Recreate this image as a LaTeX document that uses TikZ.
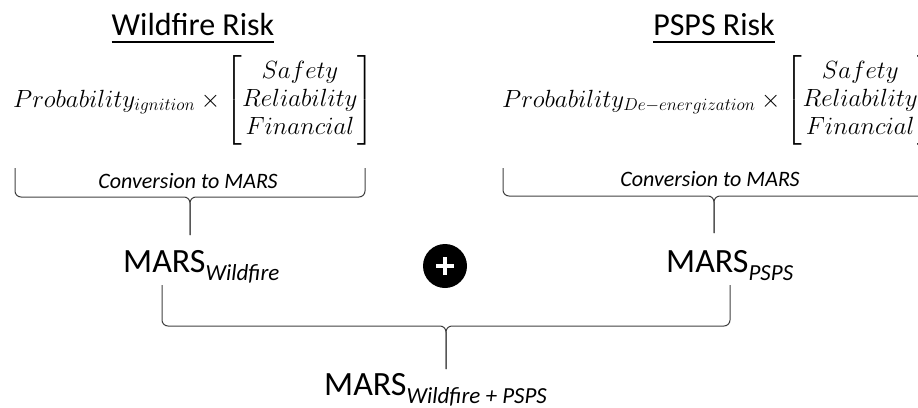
\documentclass[tikz,border=0pt]{standalone}
\usepackage{amsmath}
\usepackage{fontspec}
\setmainfont{Carlito}
\newcommand\mybrace[6]{%
  \draw[bracestyle] (#1,#3) -- (#1,#4) -- (#5,#4) -- (#5,#6);
  \draw[bracestyle] (#2,#3) -- (#2,#4) -- (#5,#4) -- (#5,#6);}
\begin{document}
\begin{tikzpicture}[x=1pt,y=-1pt,
  title/.style={font=\fontsize{32}{36}\selectfont, anchor=base, inner sep=0pt},
  formula/.style={font=\fontsize{24}{28}\selectfont, anchor=base west, inner sep=0pt},
  conv/.style={font=\fontsize{22}{26}\selectfont\itshape, anchor=base, inner sep=0pt},
  mars/.style={font=\fontsize{34}{38}\selectfont, anchor=base west, inner sep=0pt},
  sub/.style={font=\fontsize{23}{26}\selectfont\itshape},
  bracestyle/.style={line width=1pt, draw=black!75, rounded corners=6pt},
  uline/.style={line width=1.6pt}]
\clip (0,0) rectangle (918,407);
% titles
\node[title] (t1) at (193,35) {Wildfire Risk};
\node[title] (t2) at (714,35) {PSPS Risk};
\draw[uline] ([yshift=-7pt]t1.base west) -- ([yshift=-7pt]t1.base east);
\draw[uline] ([yshift=-7pt]t2.base west) -- ([yshift=-7pt]t2.base east);
% formulas
\node[formula] (f1) at (13,107) {$Probability_{ignition}\times\begin{bmatrix}Safety\\Reliability\\Financial\end{bmatrix}$};
\node[formula] (f2) at (502,107) {$Probability_{De-energization}\times\begin{bmatrix}Safety\\Reliability\\Financial\end{bmatrix}$};
% conversion labels
\node[conv] (c1) at (188,188) {Conversion to MARS};
\node[conv] (c2) at (710,186) {Conversion to MARS};
% braces
\mybrace{15}{365}{168}{197}{190}{235}
\mybrace{503}{930}{168}{196}{714}{233}
\mybrace{162}{730}{285}{326}{446}{369}
% MARS nodes
\node[mars] (m1) at (123,272) {MARS\raisebox{-8pt}{\fontsize{23}{26}\selectfont\itshape Wildfire}};
\node[mars] (m2) at (666,272) {MARS\raisebox{-8pt}{\fontsize{23}{26}\selectfont\itshape PSPS}};
\node[mars] (m3) at (324,395) {MARS\raisebox{-8pt}{\fontsize{23}{26}\selectfont\itshape Wildfire + PSPS}};
% plus
\node[circle, fill=black, minimum size=44pt, inner sep=0pt] (plus) at (445,266) {};
\draw[white, line width=4pt] ([xshift=-9pt]plus.center) -- ([xshift=9pt]plus.center);
\draw[white, line width=4pt] ([yshift=-9pt]plus.center) -- ([yshift=9pt]plus.center);
\end{tikzpicture}
\end{document}
